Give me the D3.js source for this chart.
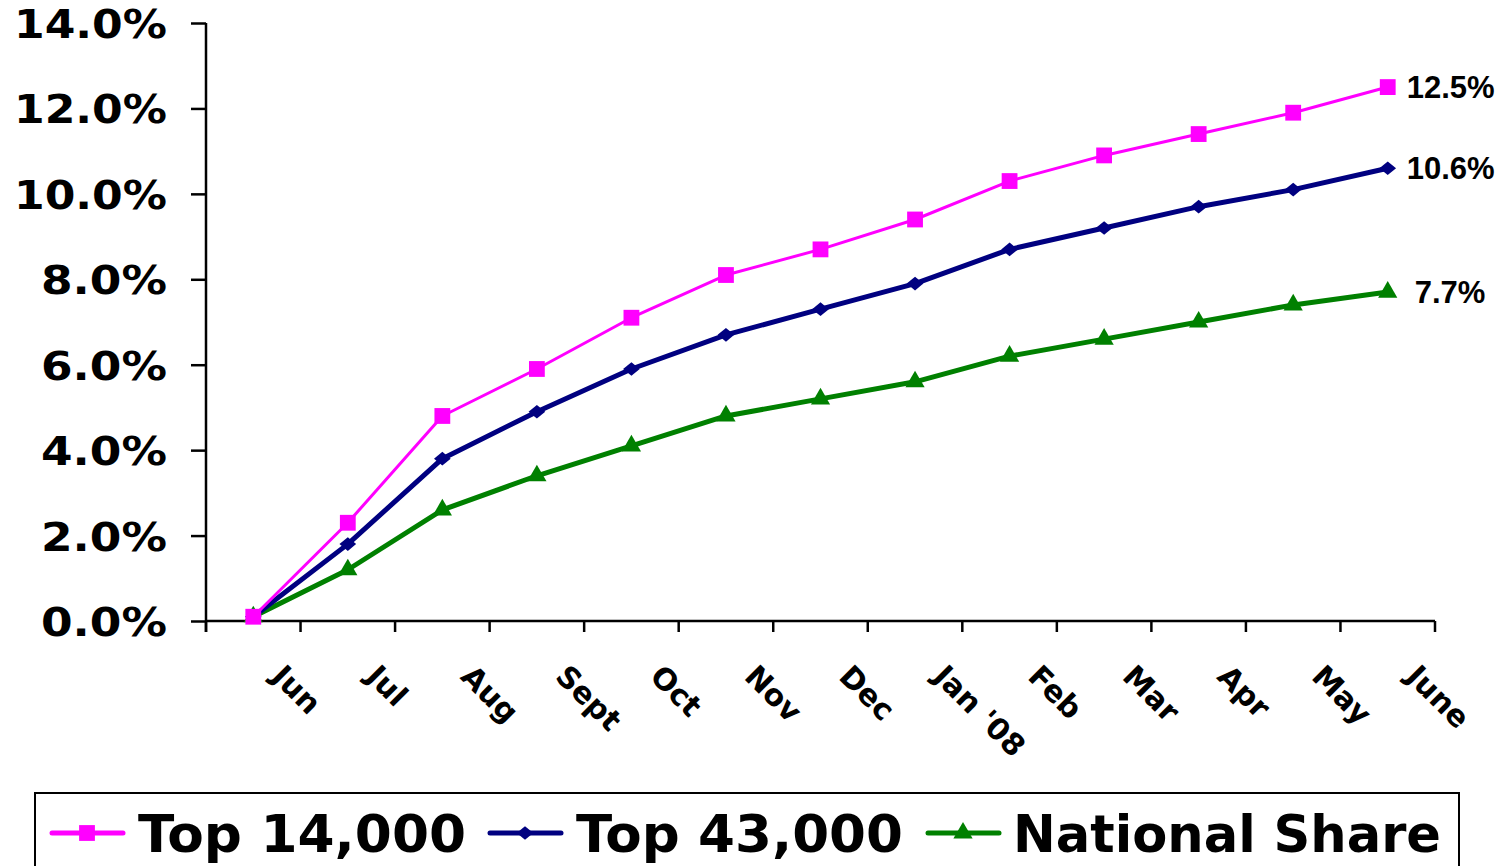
<!DOCTYPE html>
<html>
<head>
<meta charset="utf-8">
<script src="https://cdn.jsdelivr.net/npm/d3@7"></script>
<style>
  body { margin: 0; background: #fff; }
</style>
</head>
<body>
<div id="viz"></div>
<script>
// data
let months = ['Jun', 'Jul', 'Aug', 'Sept', 'Oct', 'Nov', 'Dec', "Jan '08", 'Feb', 'Mar', 'Apr', 'May', 'June'];
let top14000 = [0.1, 2.3, 4.8, 5.9, 7.1, 8.1, 8.7, 9.4, 10.3, 10.9, 11.4, 11.9, 12.5];
let top43000 = [0.1, 1.8, 3.8, 4.9, 5.9, 6.7, 7.3, 7.9, 8.7, 9.2, 9.7, 10.1, 10.6];
let national = [0.1, 1.2, 2.6, 3.4, 4.1, 4.8, 5.2, 5.6, 6.2, 6.6, 7.0, 7.4, 7.7];
let yTicks = [0, 2, 4, 6, 8, 10, 12, 14];
let seriesNames = ['Top 14,000', 'Top 43,000', 'National Share'];
let endLabels = ['12.5%', '10.6%', '7.7%'];

let W = 1507, H = 866;
let margin = {top: 23, right: 72, bottom: 245, left: 206},
    width = 1435 - margin.left,
    height = 621 - margin.top;

let svg = d3.select('#viz').append('svg')
  .attr('width', W).attr('height', H);

let g = svg.append('g')
  .attr('transform', `translate(${margin.left}, ${margin.top})`);

let x = d3.scaleBand().domain(months).range([0, width]);
let y = d3.scaleLinear().domain([0, 14]).range([height, 0]);

// squat diamond like the excel marker
let wideDiamond = {
  draw(ctx, size) {
    let r = Math.sqrt(size) / 2;
    ctx.moveTo(0, -r * 0.9);
    ctx.lineTo(r * 1.1, 0);
    ctx.lineTo(0, r * 0.9);
    ctx.lineTo(-r * 1.1, 0);
    ctx.closePath();
  }
};

// y axis
let yAxis = g.append('g')
  .call(d3.axisLeft(y).tickValues(yTicks).tickSize(15).tickFormat(d => d.toFixed(1) + '%'));
yAxis.select('.domain').remove();
yAxis.selectAll('line').attr('stroke', '#000').attr('stroke-width', 2.5);
yAxis.selectAll('text')
  .attr('x', -39)
  .attr('dy', '0.37em')
  .style('font-family', 'DejaVu Sans')
  .style('font-weight', 'bold')
  .style('font-size', '39px')
  .attr('textLength', d => d >= 10 ? 153 : 126)
  .attr('lengthAdjust', 'spacingAndGlyphs')
  .attr('fill', '#000');
g.append('line')
  .attr('x1', 0).attr('x2', 0).attr('y1', 0).attr('y2', height + 11)
  .attr('stroke', '#000').attr('stroke-width', 2.5);

// x axis with ticks on band edges
let edges = months.map(m => x(m)).concat([width]);
g.append('line')
  .attr('x1', 0).attr('x2', width).attr('y1', height).attr('y2', height)
  .attr('stroke', '#000').attr('stroke-width', 2.5);
g.selectAll('.xtick').data(edges).join('line')
  .attr('class', 'xtick')
  .attr('x1', d => d).attr('x2', d => d)
  .attr('y1', height).attr('y2', height + 11)
  .attr('stroke', '#000').attr('stroke-width', 2.5);
g.selectAll('.xlabel').data(months).join('text')
  .attr('class', 'xlabel')
  .attr('transform', d => `translate(${x(d) + x.bandwidth() / 2 + 17}, ${height + 57}) rotate(45)`)
  .text(d => d)
  .style('font-family', 'DejaVu Sans')
  .style('font-weight', 'bold')
  .style('font-size', '30px')
  .attr('fill', '#000');

let series = [
  {name: seriesNames[0], values: top14000, color: '#FF00FF', width: 3, sym: d3.symbolSquare, size: 250, label: endLabels[0]},
  {name: seriesNames[1], values: top43000, color: '#000080', width: 5, sym: wideDiamond, size: 230, label: endLabels[1]},
  {name: seriesNames[2], values: national, color: '#008000', width: 5, sym: d3.symbolTriangle, size: 160, label: endLabels[2]}
];

let line = d3.line()
  .x((d, i) => x(months[i]) + x.bandwidth() / 2)
  .y(d => y(d));

// draw in reverse order so pink sits on top
series.slice().reverse().forEach(s => {
  g.append('path')
    .datum(s.values)
    .attr('d', line)
    .attr('fill', 'none')
    .attr('stroke', s.color)
    .attr('stroke-width', s.width)
    .attr('stroke-linejoin', 'round');
  g.selectAll(null).data(s.values).join('path')
    .attr('d', d3.symbol().type(s.sym).size(s.size))
    .attr('transform', (d, i) => `translate(${x(months[i]) + x.bandwidth() / 2}, ${y(d)})`)
    .attr('fill', s.color);
});

// end labels
let endOffsets = [19, 19, 27];
series.forEach((s, i) => {
  let last = s.values[s.values.length - 1];
  g.append('text')
    .attr('x', x(months[months.length - 1]) + x.bandwidth() / 2 + endOffsets[i])
    .attr('y', y(last))
    .attr('dy', '0.36em')
    .text(s.label)
    .style('font-family', 'Liberation Sans')
    .style('font-weight', 'bold')
    .style('font-size', '31px')
    .attr('fill', '#000');
});

// legend
svg.append('rect')
  .attr('x', 35).attr('y', 793).attr('width', 1424).attr('height', 90)
  .attr('fill', 'none').attr('stroke', '#000').attr('stroke-width', 2);

let legendItems = [
  {lx: 52, tx: 138, tw: 328},
  {lx: 490, tx: 576, tw: 327},
  {lx: 928, tx: 1013, tw: 428}
];
series.forEach((s, i) => {
  let li = legendItems[i];
  svg.append('line')
    .attr('x1', li.lx).attr('x2', li.lx + 71).attr('y1', 833).attr('y2', 833)
    .attr('stroke', s.color).attr('stroke-width', 5).attr('stroke-linecap', 'round');
  svg.append('path')
    .attr('d', d3.symbol().type(s.sym).size(s.size))
    .attr('transform', `translate(${li.lx + 35}, 833)`)
    .attr('fill', s.color);
  svg.append('text')
    .attr('x', li.tx).attr('y', 852)
    .text(s.name)
    .style('font-family', 'DejaVu Sans')
    .style('font-weight', 'bold')
    .style('font-size', '52px')
    .attr('textLength', li.tw)
    .attr('lengthAdjust', 'spacingAndGlyphs')
    .attr('fill', '#000');
});
</script>
</body>
</html>
